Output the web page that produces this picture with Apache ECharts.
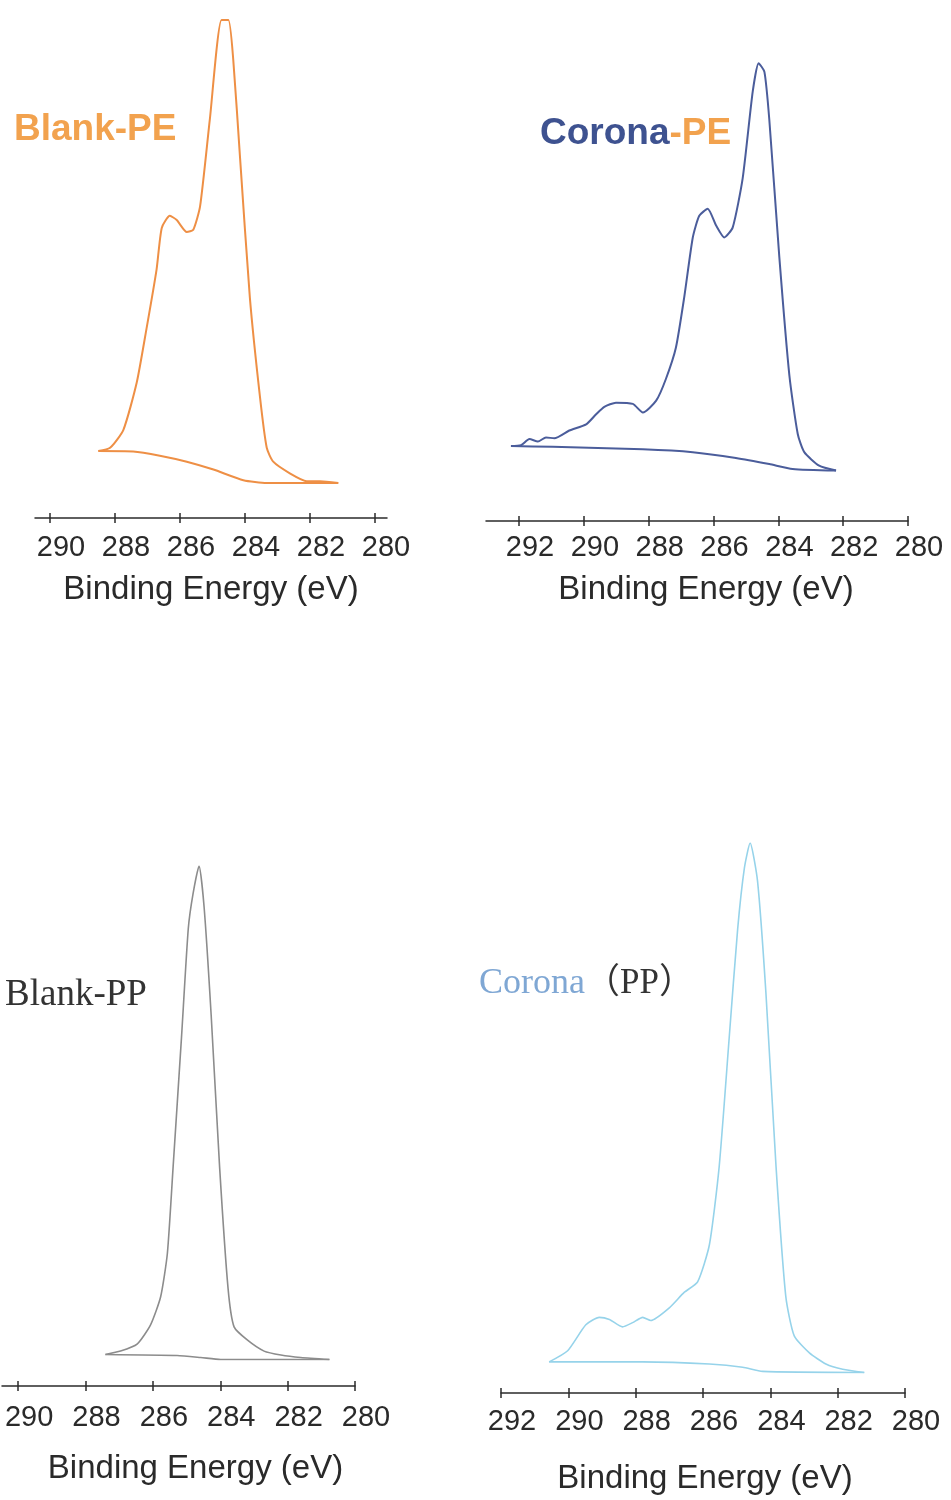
<!DOCTYPE html>
<html>
<head>
<meta charset="utf-8">
<script src="https://cdn.jsdelivr.net/npm/echarts@6/dist/echarts.min.js"></script>
<style>
  html, body { margin: 0; padding: 0; background: #fff; }
  #chart { width: 951px; height: 1500px; }
</style>
</head>
<body>
<div id="chart"></div>
<script>
// tick labels
const ticks290 = [290, 288, 286, 284, 282, 280]
const ticks292 = [292, 290, 288, 286, 284, 282, 280]

// Blank-PE, C1s
const blankPeEnergy = [288.51, 288.15, 287.74, 287.33, 287.03, 286.72, 286.56, 286.31, 286.10, 285.79, 285.59, 285.38, 285.08, 284.72, 284.51, 284.36, 284.15, 283.85, 283.54, 283.33, 283.13, 282.62, 282.10, 281.69, 281.13]
const blankPeCounts = [6.9, 7.6, 11.5, 21.7, 33.3, 46.1, 55.1, 57.7, 56.8, 54.2, 54.7, 59.8, 78.6, 100, 100, 91.4, 70.1, 40.1, 18.7, 7.6, 4.6, 2.1, 0.4, 0.4, 0]
const blankPeBgEnergy = [288.51, 287.44, 286.62, 285.79, 284.97, 284.05, 283.33, 281.13]
const blankPeBg = [6.9, 6.8, 5.9, 4.6, 2.9, 0.6, 0, 0]

// Corona-PE
const coronaPeEnergy = [292.25, 291.94, 291.68, 291.42, 291.17, 290.91, 290.45, 289.93, 289.63, 289.37, 289.01, 288.49, 288.18, 287.77, 287.47, 287.16, 286.90, 286.64, 286.44, 286.18, 285.92, 285.67, 285.41, 285.10, 284.79, 284.61, 284.43, 284.28, 283.97, 283.66, 283.40, 283.20, 282.74, 282.22]
const coronaPeCounts = [6.1, 6.3, 7.8, 7.2, 8.2, 8.0, 9.9, 11.4, 13.8, 15.7, 16.7, 16.4, 14.3, 17.2, 22.5, 30.2, 42.7, 57.1, 62.4, 64.1, 60.0, 57.1, 59.5, 71.6, 92.8, 99.7, 97.6, 86.0, 52.3, 23.4, 9.0, 4.6, 1.3, 0.1]
const coronaPeBgEnergy = [292.25, 290.96, 288.18, 286.64, 285.31, 284.28, 283.56, 282.22]
const coronaPeBg = [6.1, 5.9, 5.3, 4.6, 3.2, 1.7, 0.5, 0.1]

// Blank-PP
const blankPpEnergy = [287.41, 286.96, 286.47, 286.07, 285.77, 285.57, 285.40, 285.15, 284.95, 284.81, 284.63, 284.48, 284.27, 284.02, 283.77, 283.59, 283.19, 282.70, 282.20, 281.61, 280.76]
const blankPpCounts = [1.1, 1.8, 3.2, 7.1, 12.8, 21.6, 39.1, 65.4, 87.3, 94.3, 100, 91.7, 69.8, 39.1, 14.6, 6.7, 4.0, 1.8, 1.0, 0.5, 0.1]
const blankPpBgEnergy = [287.41, 285.28, 284.58, 283.99, 280.76]
const blankPpBg = [1.1, 0.9, 0.5, 0.1, 0.1]

// Corona (PP)
const coronaPpEnergy = [290.57, 290.02, 289.48, 289.08, 288.78, 288.39, 288.09, 287.79, 287.55, 287.00, 286.56, 286.16, 285.81, 285.52, 285.22, 284.97, 284.77, 284.60, 284.38, 284.13, 283.83, 283.54, 283.29, 282.84, 282.35, 281.85, 281.21]
const coronaPpCounts = [2.1, 4.2, 9.1, 10.5, 10.1, 8.7, 9.5, 10.5, 9.9, 12.3, 15.2, 17.2, 24.2, 38.9, 63.4, 83.8, 95.3, 100, 92.8, 71.6, 38.9, 14.4, 7.0, 3.8, 1.7, 0.7, 0.1]
const coronaPpBgEnergy = [290.57, 287.79, 285.81, 284.82, 284.23, 281.21]
const coronaPpBg = [2.1, 2.1, 1.7, 1.1, 0.3, 0.1]

const zip = (xs, ys) => xs.map((x, i) => [x, ys[i]])

// nameShift: the scanned axis titles sit a little right of the axis centre
const panels = [
  { grid: { left: 35, top: 20, width: 352, height: 463 }, min: 279.63, max: 290.46, offset: 35, margin: 15, nameGap: 55, nameShift: 0, ticks: ticks290, color: '#ee8f45', lw: 2, spec: zip(blankPeEnergy, blankPeCounts), bg: zip(blankPeBgEnergy, blankPeBg) },
  { grid: { left: 486, top: 62, width: 422, height: 409 }, min: 280, max: 293.02, offset: 50, margin: 12, nameGap: 52, nameShift: 18, ticks: ticks292, color: '#4b5d9b', lw: 2, spec: zip(coronaPeEnergy, coronaPeCounts), bg: zip(coronaPeBgEnergy, coronaPeBg) },
  { grid: { left: 2, top: 866, width: 353, height: 494 }, min: 280, max: 290.48, offset: 26, margin: 17, nameGap: 66, nameShift: 34, ticks: ticks290, color: '#8c8c8c', lw: 1.6, spec: zip(blankPpEnergy, blankPpCounts), bg: zip(blankPpBgEnergy, blankPpBg) },
  { grid: { left: 501, top: 843, width: 404, height: 530 }, min: 280, max: 292, offset: 20, margin: 14, nameGap: 69, nameShift: 4, ticks: ticks292, color: '#96d3ea', lw: 1.6, spec: zip(coronaPpEnergy, coronaPpCounts), bg: zip(coronaPpBgEnergy, coronaPpBg) },
]

const axisColor = '#2b2b2b'
const grid = []
const xAxis = []
const yAxis = []
const series = []

panels.forEach((p, i) => {
  grid.push(p.grid)
  // main axis: line, outside ticks, labels, name
  xAxis.push({
    type: 'value',
    gridIndex: i,
    min: p.min,
    max: p.max,
    inverse: true,
    position: 'bottom',
    offset: p.offset,
    splitLine: { show: false },
    axisLine: { onZero: false, lineStyle: { color: axisColor, width: 1.5 } },
    axisTick: { length: 5, lineStyle: { color: axisColor, width: 1.5 }, customValues: p.ticks },
    axisLabel: {
      customValues: p.ticks,
      margin: p.margin,
      padding: [0, 0, 0, 22],
      color: '#2a2a2a',
      fontSize: 29,
      fontFamily: 'Liberation Sans',
    },
    name: 'Binding Energy (eV)',
    nameLocation: 'middle',
    nameGap: p.nameGap,
    nameTextStyle: { color: '#2a2a2a', fontSize: 33, fontFamily: 'Liberation Sans', padding: [0, 0, 0, p.nameShift] },
  })
  // second axis only for the inner half of the cross ticks
  xAxis.push({
    type: 'value',
    gridIndex: i,
    min: p.min,
    max: p.max,
    inverse: true,
    position: 'bottom',
    offset: p.offset,
    splitLine: { show: false },
    axisLine: { show: false, onZero: false },
    axisTick: { inside: true, length: 5, lineStyle: { color: axisColor, width: 1.5 }, customValues: p.ticks },
    axisLabel: { show: false },
  })
  yAxis.push({ type: 'value', gridIndex: i, min: 0, max: 100, show: false })
  const line = (name, data) => ({
    name,
    type: 'line',
    xAxisIndex: i * 2,
    yAxisIndex: i,
    data,
    showSymbol: false,
    smooth: 0.2,
    lineStyle: { color: p.color, width: p.lw },
    silent: true,
  })
  series.push(line('spectrum', p.spec), line('background', p.bg))
})

const option = {
  backgroundColor: '#fff',
  animation: false,
  title: [
    {
      text: 'Blank-PE', left: 14, top: 111, padding: 0,
      textStyle: { color: '#f2a24e', fontSize: 37, fontWeight: 'bold', fontFamily: 'Liberation Sans' },
    },
    {
      text: '{a|Corona}{b|-PE}', left: 540, top: 115, padding: 0,
      textStyle: {
        rich: {
          a: { color: '#3e5290', fontSize: 37, fontWeight: 'bold', fontFamily: 'Liberation Sans' },
          b: { color: '#f2a24e', fontSize: 37, fontWeight: 'bold', fontFamily: 'Liberation Sans' },
        },
      },
    },
    {
      text: 'Blank-PP', left: 5, top: 977, padding: 0,
      textStyle: { color: '#333', fontSize: 37, fontWeight: 'normal', fontFamily: 'Liberation Serif' },
    },
    {
      text: '{a|Corona}{b|（PP）}', left: 479, top: 966, padding: 0,
      textStyle: {
        rich: {
          a: { color: '#7fa7d4', fontSize: 36, fontWeight: 'normal', fontFamily: 'Liberation Serif' },
          b: { color: '#333', fontSize: 35, fontWeight: 'normal', fontFamily: 'Liberation Serif, Noto Sans CJK JP' },
        },
      },
    },
  ],
  grid,
  xAxis,
  yAxis,
  series,
}

const chart = echarts.init(document.getElementById('chart'))
chart.setOption(option)
</script>
</body>
</html>
